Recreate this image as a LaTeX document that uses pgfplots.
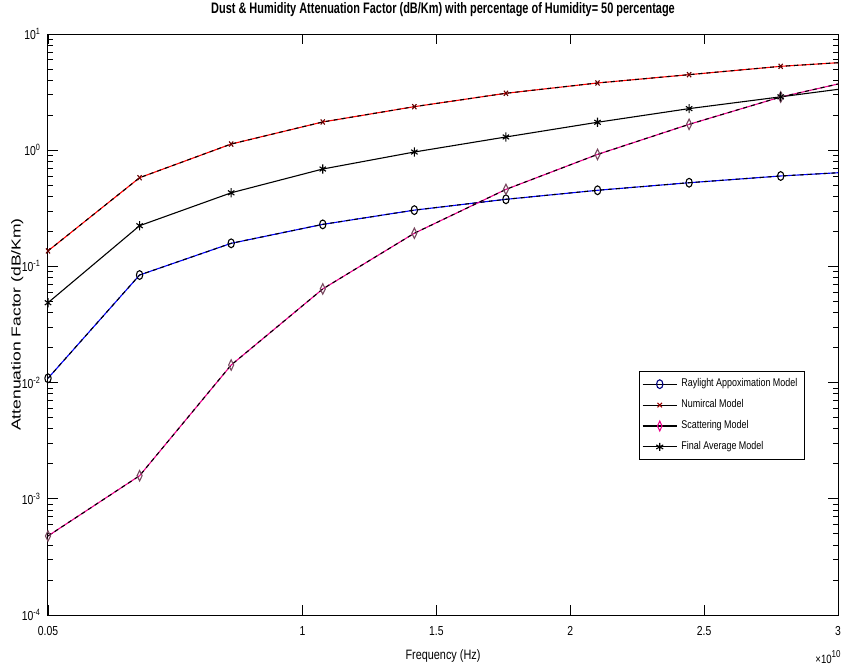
\documentclass[border=0pt]{standalone}
\usepackage{fontspec}
\setmainfont{Liberation Sans}
\newfontfamily\narrowfont[FakeStretch=0.8]{Liberation Sans}
\newfontfamily\titlefont[FakeStretch=0.72]{Liberation Sans}
\newfontfamily\widefont[FakeStretch=1.35]{Liberation Sans}
\usepackage{pgfplots}
\usepackage{pgfplotstable}
\pgfplotsset{compat=1.18}

% frequency in units of 1e10 Hz; last row lies just past the axis end
\pgfplotstableread{
f      ray     num    sca       fin
0.050  0.0109  0.136  0.000479  0.0487
0.392  0.0843  0.58   0.00158   0.224
0.734  0.158   1.13   0.01417   0.43
1.076  0.230   1.75   0.064     0.689
1.418  0.305   2.37   0.193     0.965
1.760  0.378   3.09   0.46      1.30
2.102  0.452   3.79   0.92      1.74
2.444  0.525   4.47   1.67      2.28
2.786  0.600   5.27   2.87      2.88
3.128  0.665   5.91   4.33      3.65
}\datatab

\begin{document}
\begin{tikzpicture}
\begin{axis}[
  name=ax,
  scale only axis, width=395pt, height=290.5pt,
  ymode=log,
  xmin=0.05, xmax=3, ymin=1e-4, ymax=10,
  axis line style={line width=0.5pt},
  tick style={black, line width=0.4pt},
  tick align=inside,
  major tick length=5pt, minor tick length=2.5pt,
  xtick={0.05,1,1.5,2,2.5,3},
  xticklabels={0.05,1,1.5,2,2.5,3},
  ytick={1e-4,1e-3,1e-2,1e-1,1,10},
  yticklabels={10\textsuperscript{-4},10\textsuperscript{-3},10\textsuperscript{-2},10\textsuperscript{-1},10\textsuperscript{0},10\textsuperscript{1}},
  minor ytick={2e-4,3e-4,4e-4,5e-4,6e-4,7e-4,8e-4,9e-4,
               2e-3,3e-3,4e-3,5e-3,6e-3,7e-3,8e-3,9e-3,
               2e-2,3e-2,4e-2,5e-2,6e-2,7e-2,8e-2,9e-2,
               0.2,0.3,0.4,0.5,0.6,0.7,0.8,0.9,
               2,3,4,5,6,7,8,9},
  tick label style={font=\narrowfont\fontsize{6.5}{7}\selectfont},
  xticklabel style={yshift=-2pt},
  title={\titlefont\bfseries\fontsize{7.6}{9}\selectfont Dust \& Humidity Attenuation Factor (dB/Km) with percentage of Humidity= 50 percentage},
  title style={at={(0.5,1)}, anchor=base, yshift=4.5pt},
  xlabel={Frequency (Hz)},
  xlabel style={font=\narrowfont\fontsize{6.8}{8}\selectfont, at={(axis description cs:0.5,0)}, anchor=center, yshift=-20.5pt},
  ylabel={Attenuation Factor (dB/Km)},
  ylabel style={font=\widefont\fontsize{6.5}{8}\selectfont, at={(axis description cs:-0.039,0.5)}, anchor=center},
  legend style={font=\narrowfont\fontsize{5.6}{6.5}\selectfont, at={(0.958,0.267)}, anchor=south east,
    draw=black, line width=0.4pt, inner sep=1.5pt, row sep=0.9pt, cells={anchor=west}},
  legend cell align=left,
  every axis plot/.append style={line width=0.55pt},
]
% Raylight
\addplot[blue, forget plot] table[x=f,y=ray]{\datatab};
\addplot[black, dash pattern=on 2pt off 2pt, mark=o, mark size=2.2pt,
  mark options={solid, xscale=0.72, black}, forget plot] table[x=f,y=ray]{\datatab};
% Numerical
\addplot[red, forget plot] table[x=f,y=num]{\datatab};
\addplot[black, dash pattern=on 2pt off 2pt, mark=x, mark size=1.8pt,
  mark options={solid, xscale=0.8, red!40!black}, forget plot] table[x=f,y=num]{\datatab};
% Scattering
\addplot[magenta, forget plot] table[x=f,y=sca]{\datatab};
\addplot[black, dash pattern=on 2pt off 2pt, mark=diamond, mark size=2.6pt,
  mark options={solid, xscale=0.65, magenta!40!black}, forget plot] table[x=f,y=sca]{\datatab};
% Final average
\addplot[black, mark=asterisk, mark size=2.3pt, mark options={xscale=0.8}, forget plot]
  table[x=f,y=fin]{\datatab};

\addlegendimage{black, mark=o, mark size=2.2pt, mark options={xscale=0.72, blue!50!black}}
\addlegendentry{Raylight Appoximation Model}
\addlegendimage{black, mark=x, mark size=1.6pt, mark options={red!60!black}}
\addlegendentry{Numircal Model}
\addlegendimage{black, mark=diamond, mark size=2.4pt, mark options={xscale=0.65, magenta}}
\addlegendentry{Scattering Model}
\addlegendimage{black, mark=asterisk, mark size=2pt}
\addlegendentry{Final Average Model}
\end{axis}
\node[anchor=base east, font=\narrowfont\fontsize{6}{7}\selectfont, inner sep=0pt]
  at ([xshift=2pt, yshift=-24pt]ax.south east) {×10\textsuperscript{10}};
\pgfresetboundingbox
\path[use as bounding box] ([shift={(-24pt,-25.5pt)}]ax.south west) rectangle ([shift={(2.5pt,17pt)}]ax.north east);
\end{tikzpicture}
\end{document}
